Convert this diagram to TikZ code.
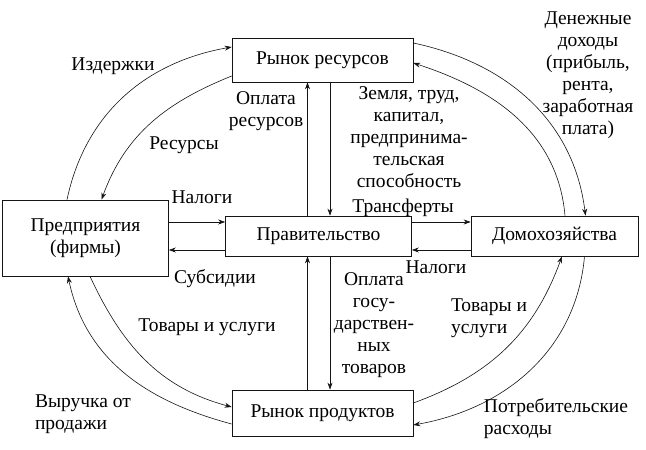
\documentclass[tikz,border=0pt]{standalone}
\usepackage{fontspec}
\setmainfont{Liberation Serif}
\usepackage{tikz}
\usetikzlibrary{arrows.meta, positioning, calc}
\definecolor{mydark}{RGB}{20,20,20}
\tikzset{
  box/.style={rectangle, draw=mydark, line width=0.7pt, inner sep=0pt,
    align=center, font=\fontsize{19.5}{22}\selectfont},
  lbl/.style={align=center, inner sep=0pt, font=\fontsize{19.5}{22}\selectfont},
  lbll/.style={align=left, inner sep=0pt, font=\fontsize{19.5}{22}\selectfont},
  arrow/.style={-{Stealth[length=7pt,width=5pt]}, line width=0.6pt, color=mydark}
}
\begin{document}
\begin{tikzpicture}[x=1pt, y=1pt]
  \useasboundingbox (0,0) rectangle (646,450);

  % Boxes
  \node[box, minimum width=181pt, minimum height=44pt] (res) at (322.5,390) {Рынок ресурсов};
  \node[box, minimum width=166pt, minimum height=76pt] (firms) at (85.5,212) {Предприятия\\(фирмы)};
  \node[box, minimum width=186pt, minimum height=40pt] (gov) at (318.5,214) {Правительство};
  \node[box, minimum width=167pt, minimum height=40pt] (house) at (554.5,214) {Домохозяйства};
  \node[box, minimum width=181pt, minimum height=46pt] (prod) at (322.5,37) {Рынок продуктов};

  % Firms <-> resource market
  \draw[arrow] ([xshift=-18.5pt]firms.north) to[out=78, in=190] ([yshift=13pt]res.west);
  \draw[arrow] ([yshift=-16pt]res.west) to[out=202, in=70] ([xshift=16pt]firms.north);
  \node[lbl] (costs) at (113,384) {Издержки};
  \node[lbl] (resources) at (184,305) {Ресурсы};

  % Resource market <-> households
  \draw[arrow] ([yshift=17pt]res.east) to[out=-12, in=97] ([xshift=31pt]house.north);
  \draw[arrow] ([xshift=10.5pt]house.north) to[out=95, in=-18] ([yshift=-3pt]res.east);
  \node[lbl] (income) at (588,375) {Денежные\\доходы\\(прибыль,\\рента,\\заработная\\плата)};

  % Government <-> resource market
  \draw[arrow] ([xshift=-11pt]gov.north) -- ([xshift=-11pt]gov.north |- res.south);
  \draw[arrow] ([xshift=11.5pt]gov.north |- res.south) -- ([xshift=11.5pt]gov.north);
  \node[lbl] (payres) at (266,339) {Оплата\\ресурсов};
  \node[lbl] (factors) at (409,313) {Земля, труд,\\капитал,\\предпринима-\\тельская\\способность};

  % Government <-> firms and households
  \coordinate (gwu) at ([yshift=14pt]gov.west);
  \coordinate (gwd) at ([yshift=-14pt]gov.west);
  \coordinate (geu) at ([yshift=14pt]gov.east);
  \coordinate (ged) at ([yshift=-14pt]gov.east);
  \draw[arrow] (firms.east |- gwu) -- (gwu);
  \draw[arrow] (gwd) -- (firms.east |- gwd);
  \draw[arrow] (geu) -- (house.west |- geu);
  \draw[arrow] (house.west |- ged) -- (ged);
  \node[lbl] (taxl) at (202,253) {Налоги};
  \node[lbl] (subs) at (215,171) {Субсидии};
  \node[lbl] (transf) at (403,242) {Трансферты};
  \node[lbl] (taxr) at (436,183) {Налоги};

  % Government <-> product market
  \draw[arrow] ([xshift=-11pt]gov.south |- prod.north) -- ([xshift=-11pt]gov.south);
  \draw[arrow] ([xshift=11.5pt]gov.south) -- ([xshift=11.5pt]gov.south |- prod.north);
  \node[lbl] (paygoods) at (374,125) {Оплата\\госу-\\дарствен-\\ных\\товаров};

  % Product market <-> firms
  \draw[arrow] ([yshift=-11pt]prod.west) to[out=165, in=-78] ([xshift=-17.5pt]firms.south);
  \draw[arrow] ([xshift=4.5pt]firms.south) to[out=-65, in=165] ([yshift=6pt]prod.west);
  \node[lbl] (goodsl) at (207,123) {Товары и услуги};
  \node[lbll] (revenue) at (83,36) {Выручка от\\продажи};

  % Product market <-> households
  \draw[arrow] ([yshift=10pt]prod.east) to[out=20, in=-110] ([xshift=7.5pt]house.south);
  \draw[arrow] ([xshift=30pt]house.south) to[out=-95, in=10] ([yshift=-12pt]prod.east);
  \node[lbll] (goodsr) at (489,132) {Товары и\\услуги};
  \node[lbll] (spend) at (556,31) {Потребительские\\расходы};
\end{tikzpicture}
\end{document}
